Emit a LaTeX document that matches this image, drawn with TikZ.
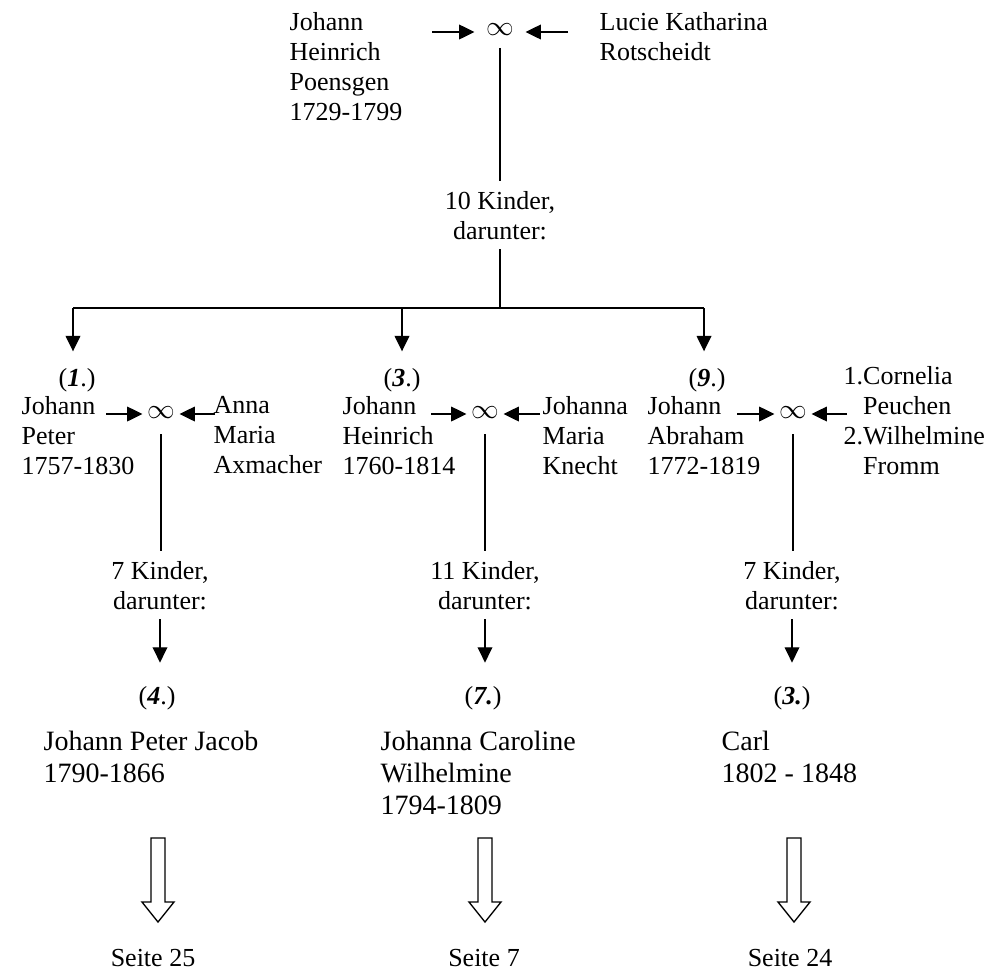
\documentclass[tikz,border=0pt]{standalone}
\usepackage{fontspec}
\setmainfont{Liberation Serif}
\usetikzlibrary{calc,arrows.meta}
\def\pagearrow(#1){\draw ($(#1)+(-7,0)$) -- ($(#1)+(7,0)$) -- ($(#1)+(7,64)$) -- ($(#1)+(16,64)$) -- ($(#1)+(0,84)$) -- ($(#1)+(-16,64)$) -- ($(#1)+(-7,64)$) -- cycle;}
\tikzset{
	arr/.style={-{Triangle[length=11.5pt,width=11pt]}},
	txt/.style={inner sep=0, align=left, anchor=north west, font=\fontsize{19.5}{22.5}\selectfont},
	big/.style={inner sep=0, align=left, anchor=north west, font=\fontsize{21}{24}\selectfont},
	kids/.style={inner xsep=0, inner ysep=7pt, align=center, anchor=north, font=\fontsize{19.5}{22.5}\selectfont},
	wed/.style={inner xsep=3pt, inner ysep=10.8pt, font=\fontsize{19.5}{22.5}\selectfont},
	num/.style={inner xsep=0, inner ysep=0, anchor=base, font=\fontsize{19.5}{22.5}\selectfont}
}

\begin{document}
\begin{tikzpicture}[x=0.75pt, y=-0.75pt, line width=1pt]
		%%%%% START %%%%%
		\useasboundingbox (0,0) rectangle (1006,972);
		
		% Eltern
		\node[txt] (jhp) at (289,12) {Johann\\Heinrich\\Poensgen\\1729-1799};
		\node[txt] (lkr) at (599,12) {Lucie Katharina\\Rotscheidt};
		\node[wed, inner xsep=8.25pt, inner ysep=8.5pt] (inf0) at (500,30) {$\infty$};
		\coordinate (tl0) at (432,32);
		\coordinate (tr0) at (568,32);
		\draw[arr] (tl0) -- (tl0 -| inf0.west);
		\draw[arr] (tr0) -- (tr0 -| inf0.east);
		
		\node[kids] (kid0) at (500,181) {10 Kinder,\\darunter:};
		\draw (inf0.south) -- (kid0.north);
		
		\coordinate (fork) at (500,308);
		\coordinate (b1) at (73,308);
		\coordinate (b3) at (402,308);
		\coordinate (b9) at (704,308);
		\draw (kid0.south) -- (fork);
		\draw (b1) -- (b9);
		
		% Kinder
		\node[num, inner ysep=12pt] (n1) at (77,386) {(\textbf{\textit{1}}.)};
		\node[num, inner ysep=12pt] (n3) at (402,386) {(\textbf{\textit{3}}.)};
		\node[num, inner ysep=12pt] (n9) at (707,386) {(\textbf{\textit{9}}.)};
		\draw[arr] (b1) -- (b1 |- n1.north);
		\draw[arr] (b3) -- (b3 |- n3.north);
		\draw[arr] (b9) -- (b9 |- n9.north);
		
		\node[txt] (jp) at (21,396) {Johann\\Peter\\1757-1830};
		\node[txt] (ama) at (213,396) {Anna\\Maria\\Axmacher};
		\node[txt] (jh) at (342,396) {Johann\\Heinrich\\1760-1814};
		\node[txt] (jmk) at (542,396) {Johanna\\Maria\\Knecht};
		\node[txt] (ja) at (647,396) {Johann\\Abraham\\1772-1819};
		\node[txt] (cpw) at (843,366) {1.Cornelia\\\phantom{1.}Peuchen\\2.Wilhelmine\\\phantom{2.}Fromm};
		
		\node[wed] (inf1) at (161,413) {$\infty$};
		\node[wed] (inf3) at (485,413) {$\infty$};
		\node[wed] (inf9) at (793,413) {$\infty$};
		\coordinate (tl1) at (106,414);
		\coordinate (tr1) at (215,414);
		\coordinate (tl3) at (431,414);
		\coordinate (tr3) at (540,414);
		\coordinate (tl9) at (737,414);
		\coordinate (tr9) at (847,414);
		\draw[arr] (tl1) -- (tl1 -| inf1.west);
		\draw[arr] (tr1) -- (tr1 -| inf1.east);
		\draw[arr] (tl3) -- (tl3 -| inf3.west);
		\draw[arr] (tr3) -- (tr3 -| inf3.east);
		\draw[arr] (tl9) -- (tl9 -| inf9.west);
		\draw[arr] (tr9) -- (tr9 -| inf9.east);
		
		\node[kids] (kid1) at (160,551) {7 Kinder,\\darunter:};
		\node[kids] (kid3) at (485,551) {11 Kinder,\\darunter:};
		\node[kids] (kid9) at (792,551) {7 Kinder,\\darunter:};
		\draw (inf1.south) -- (inf1.south |- kid1.north);
		\draw (inf3.south) -- (inf3.south |- kid3.north);
		\draw (inf9.south) -- (inf9.south |- kid9.north);
		
		% Enkel
		\node[num, inner ysep=17pt] (c4) at (157,704) {(\textbf{\textit{4}}.)};
		\node[num, inner ysep=17pt] (c7) at (483,704) {(\textbf{\textit{7.}})};
		\node[num, inner ysep=17pt] (c3) at (792,704) {(\textbf{\textit{3.}})};
		\draw[arr] (kid1.south) -- (kid1.south |- c4.north);
		\draw[arr] (kid3.south) -- (kid3.south |- c7.north);
		\draw[arr] (kid9.south) -- (kid9.south |- c3.north);
		
		\node[big] (jpj) at (43,730) {Johann Peter Jacob\\1790-1866};
		\node[big] (jcw) at (380,730) {Johanna Caroline\\Wilhelmine\\1794-1809};
		\node[big] (crl) at (721,730) {Carl\\1802 - 1848};
		
		% Verweise
		\coordinate (pa1) at (158,838);
		\coordinate (pa2) at (485,838);
		\coordinate (pa3) at (794,838);
		\pagearrow(pa1);
		\pagearrow(pa2);
		\pagearrow(pa3);
		
		\node[num] (s25) at (153,966) {Seite 25};
		\node[num] (s7) at (484,966) {Seite 7};
		\node[num] (s24) at (790,966) {Seite 24};
		
		%%%%% END %%%%%
	\end{tikzpicture}
\end{document}
